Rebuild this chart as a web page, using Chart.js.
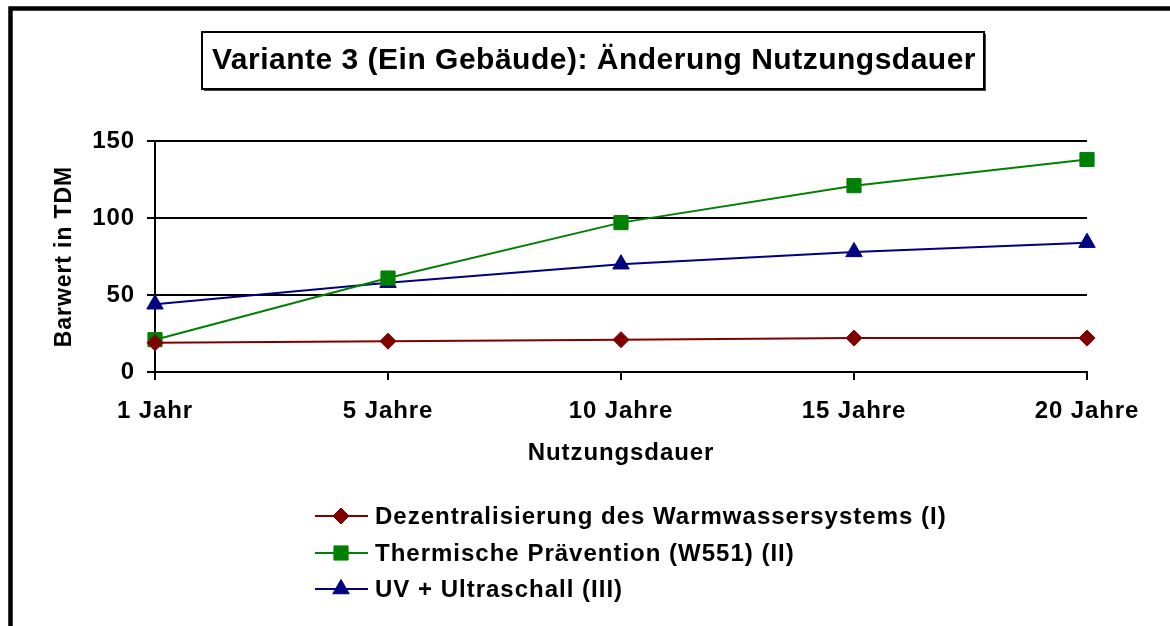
<!DOCTYPE html>
<html>
<head>
<meta charset="utf-8">
<script src="https://cdn.jsdelivr.net/npm/chart.js@4.4.1/dist/chart.umd.min.js"></script>
<style>
  html, body { margin: 0; padding: 0; background: #fff; }
  #wrap { position: relative; width: 1170px; height: 626px; }
</style>
</head>
<body>
<div id="wrap"><canvas id="chart"></canvas></div>
<script>
const labels = ['1 Jahr', '5 Jahre', '10 Jahre', '15 Jahre', '20 Jahre'];
const dezentral = [19, 20, 21, 22, 22];
const thermisch = [21, 61, 97, 121, 138];
const uvSchall = [44, 58, 70, 78, 84];
const seriesNames = [
  'Dezentralisierung des Warmwassersystems (I)',
  'Thermische Prävention (W551) (II)',
  'UV + Ultraschall (III)'
];
const titleText = 'Variante 3 (Ein Gebäude): Änderung Nutzungsdauer';

const FONT = '"Liberation Sans", Arial, sans-serif';
const SPACING = '0.9px';

// letter spacing to mimic the wide Excel text rendering
const spacing = {
  id: 'spacing',
  beforeUpdate(chart) { chart.ctx.letterSpacing = SPACING; },
  beforeLayout(chart) { chart.ctx.letterSpacing = SPACING; },
  beforeDraw(chart) { chart.ctx.letterSpacing = SPACING; }
};

const decor = {
  id: 'decor',
  afterDraw(chart) {
    const ctx = chart.ctx;
    ctx.save();
    // outer frame
    ctx.strokeStyle = '#000';
    ctx.lineWidth = 4.5;
    ctx.strokeRect(10.5, 8.5, 2000, 2000);

    // title box with small shadow
    ctx.fillStyle = '#444';
    ctx.fillRect(204, 34, 782, 57);
    ctx.fillStyle = '#fff';
    ctx.fillRect(202, 32, 782, 57);
    ctx.lineWidth = 2;
    ctx.strokeStyle = '#000';
    ctx.strokeRect(202, 32, 782, 57);
    ctx.letterSpacing = '0.5px';
    ctx.fillStyle = '#000';
    ctx.font = 'bold 30px ' + FONT;
    ctx.textAlign = 'center';
    ctx.textBaseline = 'middle';
    ctx.fillText(titleText, 594, 61);

    // legend
    const rows = [516, 553, 589];
    ctx.letterSpacing = '1px';
    ctx.font = 'bold 24px ' + FONT;
    ctx.textAlign = 'left';
    chart.data.datasets.forEach((ds, i) => {
      const y = rows[i];
      ctx.strokeStyle = ds.borderColor;
      ctx.lineWidth = 2;
      ctx.beginPath();
      ctx.moveTo(315, y);
      ctx.lineTo(368, y);
      ctx.stroke();
      ctx.fillStyle = ds.pointBackgroundColor;
      ctx.strokeStyle = ds.borderColor;
      ctx.lineWidth = 1;
      Chart.helpers.drawPoint(ctx, { pointStyle: ds.pointStyle, radius: ds.pointRadius, rotation: 0, borderWidth: 1 }, 341, y);
      ctx.fillStyle = '#000';
      ctx.fillText(ds.label, 375, y + 1);
    });
    ctx.restore();
  }
};

const tickFont = { family: FONT, size: 24, weight: 'bold' };

new Chart(document.getElementById('chart'), {
  type: 'line',
  data: {
    labels,
    datasets: [
      { label: seriesNames[0], data: dezentral, borderColor: '#800000', backgroundColor: '#800000',
        pointBackgroundColor: '#800000', pointStyle: 'rectRot', pointRadius: 8, borderWidth: 2, pointBorderWidth: 1, tension: 0 },
      { label: seriesNames[1], data: thermisch, borderColor: '#008000', backgroundColor: '#008000',
        pointBackgroundColor: '#008000', pointStyle: 'rect', pointRadius: 10, borderWidth: 2, pointBorderWidth: 1, tension: 0 },
      { label: seriesNames[2], data: uvSchall, borderColor: '#000080', backgroundColor: '#000080',
        pointBackgroundColor: '#000080', pointStyle: 'triangle', pointRadius: 9.5, borderWidth: 2, pointBorderWidth: 1, tension: 0 }
    ]
  },
  options: {
    responsive: true,
    maintainAspectRatio: false,
    animation: false,
    layout: { padding: { left: 51, top: 141, right: 83, bottom: 154 } },
    plugins: {
      legend: { display: false },
      title: { display: false },
      tooltip: { enabled: false }
    },
    scales: {
      x: {
        offset: false,
        grid: { drawOnChartArea: false, drawTicks: true, tickLength: 8, color: '#000', lineWidth: 2 },
        border: { display: true, color: '#000', width: 2 },
        ticks: { color: '#000', font: tickFont, padding: 17, maxRotation: 0, autoSkip: false },
        title: { display: true, text: 'Nutzungsdauer', color: '#000', font: tickFont, padding: { top: 0, bottom: 4 } },
        afterFit(scale) { scale.height = 100; }
      },
      y: {
        min: 0,
        max: 150,
        ticks: { stepSize: 50, color: '#000', font: tickFont, padding: 12 },
        grid: { color: '#000', lineWidth: 2, tickLength: 8, drawTicks: true },
        border: { display: true, color: '#000', width: 2 },
        title: { display: true, text: 'Barwert in TDM', color: '#000', font: { family: FONT, size: 23, weight: 'bold' }, padding: { top: 0, bottom: 0 } },
        afterFit(scale) { scale.width = 104; }
      }
    }
  },
  plugins: [spacing, decor]
});
</script>
</body>
</html>
